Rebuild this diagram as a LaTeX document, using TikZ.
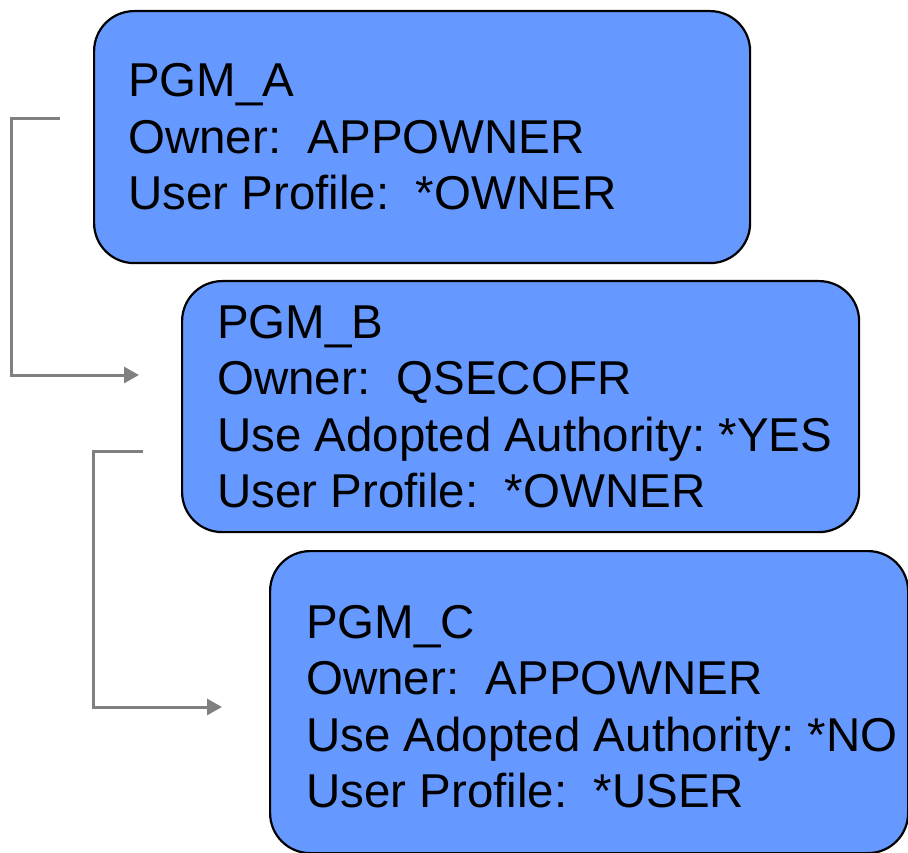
\documentclass[tikz,border=0pt]{standalone}
\usepackage{fontspec}
\setmainfont{Liberation Sans}
\usetikzlibrary{arrows.meta}
\definecolor{boxblue}{HTML}{6699FF}
\definecolor{linkgray}{HTML}{808080}
\frenchspacing

\begin{document}
\begin{tikzpicture}[x=1pt,y=-1pt,
  pgmbox/.style={draw=black, line width=2.2pt, fill=boxblue, rounded corners=40pt,
                 inner sep=0pt, anchor=north west},
  pgmtext/.style={anchor=base west, inner sep=0pt,
                  font=\fontsize{47.5}{56.5}\selectfont},
  conn/.style={draw=linkgray, line width=3pt,
               -{Triangle[length=15pt,width=16pt]}}]

  \useasboundingbox (0,0) rectangle (908,853);

  % program boxes
  \node[pgmbox, minimum width=656pt, minimum height=252pt] (A) at (93,10) {};
  \node[pgmbox, minimum width=677pt, minimum height=251pt] (B) at (181,280) {};
  \node[pgmbox, minimum width=638pt, minimum height=302pt] (C) at (269,550) {};

  % box contents
  \node[pgmtext] (Atext) at (128,97)
    {\vtop{\hbox{PGM\_A}\hbox{Owner:\ \ APPOWNER}\hbox{User Profile:\ \ *OWNER}}};
  \node[pgmtext] (Btext) at (217,338)
    {\vtop{\hbox{PGM\_B}\hbox{Owner:\ \ QSECOFR}\hbox{Use Adopted Authority: *YES}\hbox{User Profile:\ \ *OWNER}}};
  \node[pgmtext] (Ctext) at (306,638)
    {\vtop{\hbox{PGM\_C}\hbox{Owner:\ \ APPOWNER}\hbox{Use Adopted Authority: *NO}\hbox{User Profile:\ \ *USER}}};

  % call links between programs
  \coordinate (AB-from) at (60,119);
  \coordinate (AB-to)   at (139,375);
  \coordinate (BC-from) at (143,451);
  \coordinate (BC-to)   at (222,707);

  \draw[conn] (AB-from) -- ++(-49,0) |- (AB-to);
  \draw[conn] (BC-from) -- ++(-50,0) |- (BC-to);
\end{tikzpicture}
\end{document}
